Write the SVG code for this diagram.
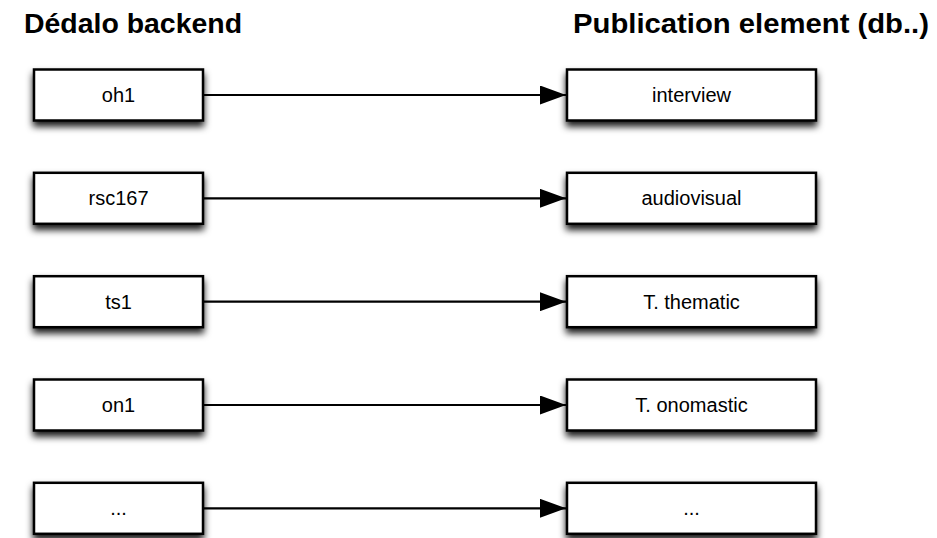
<svg xmlns="http://www.w3.org/2000/svg" width="937" height="538" viewBox="0 0 937 538">
<style>
.title{font-family:"Liberation Sans",Arial,sans-serif;font-weight:bold;font-size:28px;fill:#000}
.box{fill:#fff;stroke:#000;stroke-width:2.5;filter:url(#sh)}
.lbl{font-family:"Liberation Sans",Arial,sans-serif;font-size:20px;fill:#000;text-anchor:middle}
.conn{stroke:#000;stroke-width:2.2;fill:none;marker-end:url(#arr)}
</style>
<defs>
<filter id="sh" x="-20%" y="-30%" width="140%" height="180%">
<feGaussianBlur in="SourceAlpha" stdDeviation="3.5" result="bl"/>
<feOffset in="bl" dx="0" dy="5" result="off"/>
<feFlood flood-color="#000" flood-opacity="0.9" result="fl"/>
<feComposite in="fl" in2="off" operator="in" result="shadow"/>
<feMerge><feMergeNode in="shadow"/><feMergeNode in="SourceGraphic"/></feMerge>
</filter>
<marker id="arr" markerUnits="userSpaceOnUse" markerWidth="27" markerHeight="19" refX="26" refY="9.5" orient="auto">
<path d="M0,0 L26,9.5 L0,19 z" fill="#000"/>
</marker>
</defs>
<text class="title" x="24" y="33" textLength="218" lengthAdjust="spacingAndGlyphs">Dédalo backend</text>
<text class="title" x="573" y="33" textLength="356" lengthAdjust="spacingAndGlyphs">Publication element (db..)</text>
<g id="connectors">
<line class="conn" x1="204" y1="95" x2="566" y2="95"/>
<line class="conn" x1="204" y1="198.3" x2="566" y2="198.3"/>
<line class="conn" x1="204" y1="301.7" x2="566" y2="301.7"/>
<line class="conn" x1="204" y1="405" x2="566" y2="405"/>
<line class="conn" x1="204" y1="508.3" x2="566" y2="508.3"/>
</g>
<g id="n-oh1"><rect class="box" x="34" y="69.5" width="169" height="51"/><text class="lbl" x="118.5" y="102">oh1</text></g>
<g id="n-rsc167"><rect class="box" x="34" y="172.8" width="169" height="51"/><text class="lbl" x="118.5" y="205.3">rsc167</text></g>
<g id="n-ts1"><rect class="box" x="34" y="276.2" width="169" height="51"/><text class="lbl" x="118.5" y="308.7">ts1</text></g>
<g id="n-on1"><rect class="box" x="34" y="379.5" width="169" height="51"/><text class="lbl" x="118.5" y="412">on1</text></g>
<g id="n-dots-l"><rect class="box" x="34" y="482.8" width="169" height="51"/><text class="lbl" x="118.5" y="515.3">...</text></g>
<g id="n-interview"><rect class="box" x="567" y="69.5" width="249" height="51"/><text class="lbl" x="691.5" y="102">interview</text></g>
<g id="n-audiovisual"><rect class="box" x="567" y="172.8" width="249" height="51"/><text class="lbl" x="691.5" y="205.3">audiovisual</text></g>
<g id="n-thematic"><rect class="box" x="567" y="276.2" width="249" height="51"/><text class="lbl" x="691.5" y="308.7">T. thematic</text></g>
<g id="n-onomastic"><rect class="box" x="567" y="379.5" width="249" height="51"/><text class="lbl" x="691.5" y="412">T. onomastic</text></g>
<g id="n-dots-r"><rect class="box" x="567" y="482.8" width="249" height="51"/><text class="lbl" x="691.5" y="515.3">...</text></g>
</svg>
